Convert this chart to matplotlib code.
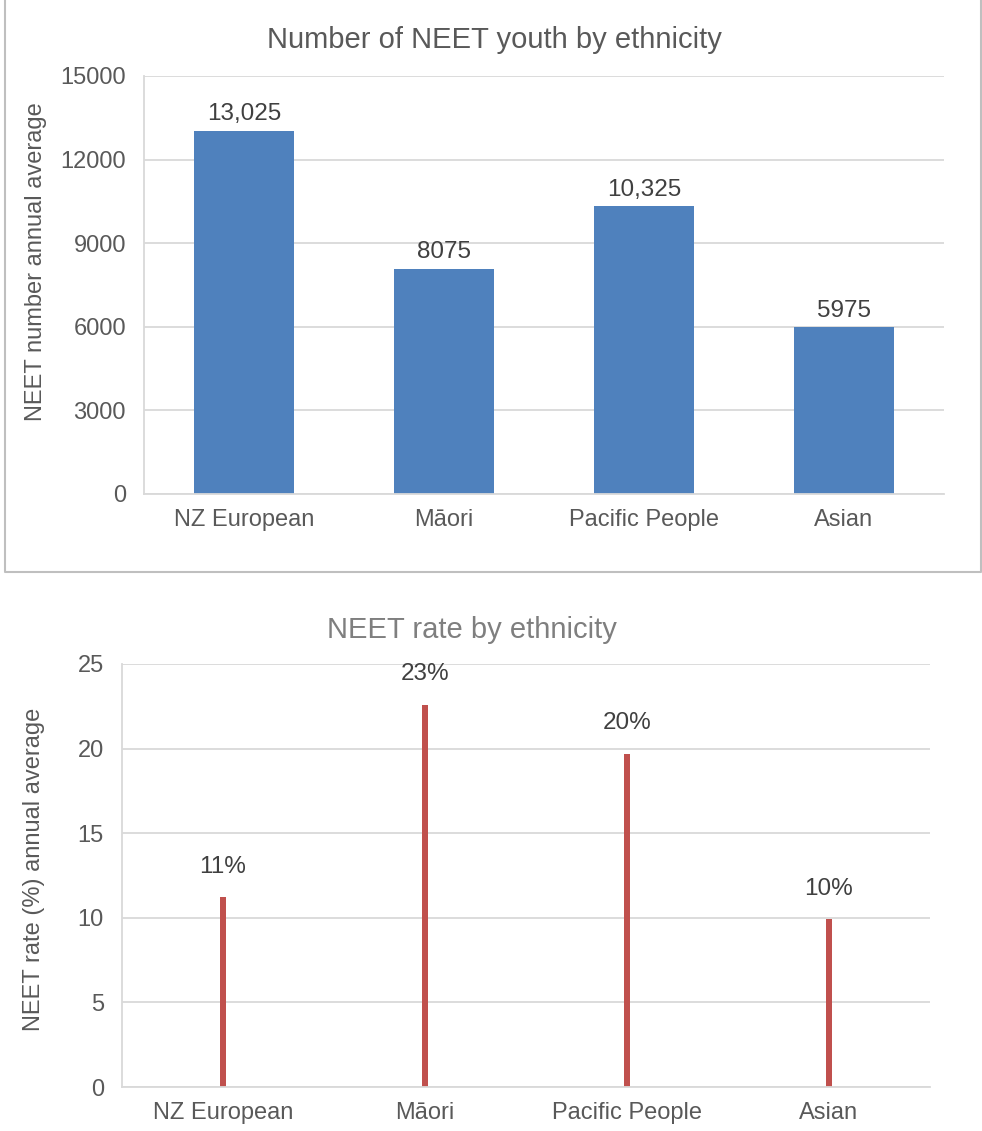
import matplotlib.pyplot as plt
from matplotlib.lines import Line2D

plt.rcParams['font.family'] = ['Liberation Sans', 'DejaVu Sans']

ethnicities = ['NZ European', 'Māori', 'Pacific People', 'Asian']
neet_numbers = [13025, 8075, 10325, 5975]
number_labels = ['13,025', '8075', '10,325', '5975']
neet_rates = [11.2, 22.6, 19.7, 9.9]
rate_labels = ['11%', '23%', '20%', '10%']

W, H = 982, 1131
TEXT = '#595959'
GRID = '#D9D9D9'
BLUE = '#4F81BD'
RED = '#C0504D'


def px_axes(fig, left, top, right, bottom):
    """Add axes using pixel edges (origin top-left)."""
    return fig.add_axes([left / W, 1 - bottom / H, (right - left) / W, (bottom - top) / H])


def style(ax):
    for side in ['top', 'right']:
        ax.spines[side].set_visible(False)
    for side in ['left', 'bottom']:
        ax.spines[side].set_color(GRID)
        ax.spines[side].set_linewidth(1.3)
    ax.yaxis.grid(True, color=GRID, linewidth=1.3)
    ax.set_axisbelow(True)
    ax.tick_params(length=0, labelsize=17, labelcolor=TEXT)
    ax.tick_params(axis='y', pad=13)
    ax.tick_params(axis='x', pad=11)


fig = plt.figure(figsize=(W / 100, H / 100), dpi=100)

# frame around the top chart (left, bottom, right edges only)
frame_x = [5 / W, 5 / W, 981 / W, 981 / W]
frame_y = [1.0, 1 - 572 / H, 1 - 572 / H, 1.0]
fig.lines.append(Line2D(frame_x, frame_y, transform=fig.transFigure, color='#BFBFBF', linewidth=1.5))

# top chart: counts
ax1 = px_axes(fig, 144, 76, 944, 494)
x = range(len(ethnicities))
ax1.bar(x, neet_numbers, width=0.5, color=BLUE)
ax1.set_xlim(-0.5, 3.5)
ax1.set_ylim(0, 15000)
ax1.set_yticks([0, 3000, 6000, 9000, 12000, 15000])
ax1.set_xticks(list(x))
ax1.set_xticklabels(ethnicities)
style(ax1)
for i, (v, lab) in enumerate(zip(neet_numbers, number_labels)):
    ax1.annotate(lab, (i, v), xytext=(0, 4), textcoords='offset points',
                 ha='center', va='bottom', fontsize=17.5, color='#404040')
ax1.set_ylabel('NEET number annual average', fontsize=17, color=TEXT)
ax1.yaxis.set_label_coords(47 / W, 1 - 262 / H, transform=fig.transFigure)
fig.text(494 / W, 1 - 40 / H, 'Number of NEET youth by ethnicity', ha='center', va='center',
         fontsize=21, color=TEXT)

# bottom chart: rates
ax2 = px_axes(fig, 122, 664, 930, 1087)
ax2.bar(x, neet_rates, width=0.025, color=RED)
ax2.set_xlim(-0.5, 3.5)
ax2.set_ylim(0, 25)
ax2.set_yticks([0, 5, 10, 15, 20, 25])
ax2.set_xticks(list(x))
ax2.set_xticklabels(ethnicities)
style(ax2)
for i, (v, lab) in enumerate(zip(neet_rates, rate_labels)):
    ax2.annotate(lab, (i, v), xytext=(0, 14), textcoords='offset points',
                 ha='center', va='bottom', fontsize=17.5, color='#404040')
ax2.set_ylabel('NEET rate (%) annual average', fontsize=17, color=TEXT)
ax2.yaxis.set_label_coords(45 / W, 1 - 869 / H, transform=fig.transFigure)
fig.text(472 / W, 1 - 630 / H, 'NEET rate by ethnicity', ha='center', va='center',
         fontsize=21, color='#7F7F7F')

fig.savefig('out.png', dpi=100)
